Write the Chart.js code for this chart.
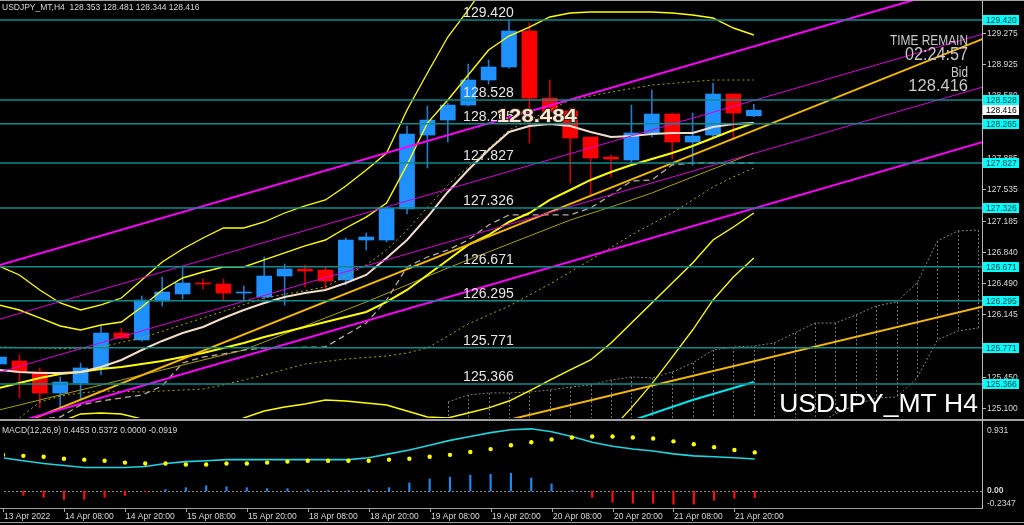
<!DOCTYPE html>
<html>
<head>
<meta charset="utf-8">
<script src="https://cdn.jsdelivr.net/npm/chart.js@4.4.1/dist/chart.umd.min.js"></script>
<style>
html,body{margin:0;padding:0;background:#000;overflow:hidden;}
#wrap{position:relative;width:1024px;height:525px;background:#000;}
#main{position:absolute;left:0;top:0;}
#macd{position:absolute;left:0;top:420px;}
</style>
</head>
<body>
<div id="wrap">
<canvas id="main" width="1024" height="420"></canvas>
<canvas id="macd" width="1024" height="105"></canvas>
</div>
<script>
// USDJPY H4 candles, bar 0 = 13 Apr 20:00 ... bar 37 = 22 Apr 00:00
var opens  = [125.589,125.623,125.500,125.266,125.378,125.545,125.934,125.857,126.291,126.369,126.491,126.480,126.380,126.335,126.569,126.647,126.636,126.525,126.970,126.970,127.315,128.139,128.306,128.473,128.752,128.897,129.298,128.551,128.407,128.117,127.894,127.861,128.162,128.373,128.061,128.139,128.596,128.353];
var highs  = [125.690,125.690,125.545,125.445,125.600,126.012,125.990,126.347,126.558,126.681,126.536,126.536,126.458,126.781,126.703,126.692,126.670,126.992,127.048,127.340,128.240,128.462,128.496,128.930,128.975,129.420,129.387,128.752,128.440,128.117,127.917,128.473,128.640,128.384,128.384,128.718,128.596,128.481];
var lows   = [125.545,125.211,125.099,125.099,125.200,125.467,125.868,125.845,126.235,126.313,126.424,126.302,126.291,126.313,126.246,126.447,126.424,126.469,126.859,126.948,127.260,127.772,128.061,128.462,128.707,128.885,128.050,128.273,127.605,127.460,127.672,127.828,128.117,127.872,127.805,128.117,128.084,128.344];
var closes = [125.667,125.500,125.266,125.389,125.545,125.934,125.879,126.302,126.391,126.491,126.480,126.380,126.391,126.569,126.647,126.625,126.514,126.970,127.004,127.326,128.151,128.306,128.473,128.752,128.897,129.298,128.551,128.396,128.106,127.883,127.872,128.162,128.373,128.061,128.128,128.596,128.384,128.416];

var xTickBars = [0,3,6,9,12,15,18,21,24,27,30,33,36];
var xTickLabels = ["13 Apr 2022","14 Apr 08:00","14 Apr 20:00","15 Apr 08:00","15 Apr 20:00","18 Apr 08:00","18 Apr 20:00","19 Apr 08:00","19 Apr 20:00","20 Apr 08:00","20 Apr 20:00","21 Apr 08:00","21 Apr 20:00"];
var priceTicks = [129.275,128.925,128.580,128.235,127.885,127.535,127.185,126.840,126.490,126.145,125.795,125.450,125.100];
var levels = [129.420,128.528,128.265,127.827,127.326,126.671,126.295,125.771,125.366];
var bid = 128.416;

// moving averages / bollinger
var maFast = [125.523,125.500,125.489,125.489,125.500,125.556,125.634,125.745,125.846,125.935,126.002,126.102,126.191,126.269,126.336,126.380,126.414,126.492,126.581,126.770,126.970,127.226,127.505,127.750,127.973,128.173,128.240,128.262,128.240,128.173,128.117,128.128,128.151,128.162,128.162,128.229,128.262,128.273];
var bbMid = [125.322,125.378,125.434,125.478,125.500,125.534,125.556,125.589,125.623,125.667,125.712,125.768,125.823,125.890,125.946,126.002,126.057,126.113,126.169,126.280,126.414,126.581,126.748,126.915,127.026,127.171,127.271,127.416,127.527,127.639,127.728,127.806,127.872,127.939,128.017,128.106,128.195,128.273];
var bbUp2 = [126.247,126.191,126.102,126.013,125.968,126.024,126.057,126.224,126.414,126.547,126.614,126.670,126.670,126.748,126.826,126.904,126.970,127.104,127.226,127.382,127.806,128.273,128.529,128.808,129.086,129.242,129.342,129.454,129.498,129.509,129.509,129.509,129.509,129.498,129.476,129.443,129.331,129.253];
var bbUp3 = [126.681,126.581,126.414,126.269,126.191,126.247,126.324,126.525,126.725,126.870,126.993,127.104,127.104,127.171,127.271,127.349,127.416,127.572,127.750,127.939,128.418,128.830,129.231,129.532,129.866,130.144];
var bbLow2 = [124.398,124.565,124.765,124.944,125.033,125.044,125.033,124.977,124.899,124.832,124.855,124.910,124.988,125.066,125.111,125.144,125.189,125.177,125.155,125.133,125.066,124.999,124.988,125.044,125.100,125.177,125.289,125.411,125.523,125.634,125.823,126.046,126.269,126.492,126.714,126.970,127.115,127.271];
var bbLow3Bars = [29,30,31,32,33,34,35,36,37];
var bbLow3 = [124.409,124.855,125.100,125.367,125.667,125.968,126.302,126.558,126.770];
var oliveBars = [0,3,6,9,12,14,16,18,20,22,24,26,28,30,32,34,36,37];
var oliveMa = [125.077,125.244,125.411,125.578,125.745,125.924,126.102,126.280,126.469,126.659,126.837,127.015,127.193,127.338,127.494,127.672,127.850,127.939];
var dotUpBars = [0,2,4,5,7,10,13,16,18,19,20,22,25,26,28,30,32,35,37];
var dotUp = [125.779,125.768,125.757,125.779,125.879,126.102,126.324,126.447,126.692,126.859,127.082,127.583,128.195,128.307,128.529,128.618,128.696,128.752,128.752];
var dotLowBars = [1,2,3,4,5,7,10,11,12,13,15,17,19,20,21,22,23,25,27,29,31,33,35,36,37];
var dotLow = [124.988,125.166,125.233,125.267,125.289,125.278,125.311,125.356,125.411,125.467,125.589,125.645,125.678,125.712,125.768,125.901,126.035,126.235,126.480,126.748,127.026,127.271,127.561,127.672,127.772];
var kijunBars = [0,2,3,4,5,6,7,8,9,10,11,12,13,16,17,18,19,20,21,22,23,24,25,28,29,30,31,32,33,34,37];
var kijun = [124.977,124.977,124.999,125.133,125.177,125.211,125.244,125.345,125.601,125.667,125.701,125.745,125.768,125.779,125.912,126.046,126.302,126.670,126.781,126.859,126.970,127.137,127.249,127.249,127.327,127.471,127.627,127.639,127.806,127.828,127.828];
var cyanBars = [30,34,37];
var cyanLine = [124.880,125.189,125.389];

// ichimoku cloud (shifted forward)
var cloudStart = 22;
var cloudTop = [125.166,125.244,125.267,125.267,125.278,125.300,125.333,125.356,125.411,125.445,125.434,125.500,125.601,125.745,125.779,125.790,125.823,125.935,126.046,126.046,126.135,126.235,126.280,126.492,126.959,127.071,127.082];
var cloudLowBars = [40,41,42,43,44,45,46,47,48];
var cloudLow = [124.910,125.033,125.133,125.211,125.222,125.434,125.857,125.957,125.990];

// drawn trend lines (bar, price end points)
var lineBars = [0,49];
var chanTop = [126.688,129.917];
var chanMidHi = [126.087,129.315];
var chanMidLo = [125.497,128.725];
var chanBottom = [124.884,128.113];
var trendUp = [124.828,129.280];
var trendLowBars = [24,49];
var trendLow = [124.914,126.270];

// MACD(12,26,9)
var macdMain = [0.462,0.422,0.382,0.355,0.328,0.328,0.328,0.342,0.382,0.409,0.422,0.436,0.436,0.436,0.436,0.436,0.436,0.436,0.462,0.516,0.570,0.636,0.704,0.757,0.811,0.851,0.864,0.824,0.757,0.677,0.623,0.583,0.556,0.516,0.489,0.476,0.462,0.4453];
var macdSignal = [0.503,0.489,0.476,0.449,0.436,0.422,0.395,0.382,0.382,0.369,0.369,0.382,0.382,0.395,0.409,0.422,0.422,0.422,0.422,0.436,0.449,0.476,0.503,0.543,0.583,0.637,0.677,0.717,0.744,0.757,0.757,0.744,0.730,0.690,0.650,0.610,0.570,0.5372];
var macdHist = [-0.020,-0.060,-0.087,-0.114,-0.114,-0.087,-0.060,-0.007,0.020,0.047,0.074,0.060,0.047,0.034,0.034,0.020,0.007,0.007,0.020,0.047,0.114,0.168,0.194,0.221,0.234,0.248,0.181,0.100,0.007,-0.087,-0.154,-0.168,-0.168,-0.181,-0.181,-0.127,-0.100,-0.0919];

var XMIN = 0.049, XMAX = 48.186;
var PMIN = 124.988, PMAX = 129.643;
var FONT = '"Liberation Sans", Arial, sans-serif';
var TXT = '#d8d8d8';

function seq(start, vals) { return vals.map(function(v, k) { return {x: start + k, y: v}; }); }
function pts(bars, vals) { return vals.map(function(v, k) { return {x: bars[k], y: v}; }); }

function line(data, color, width, order, dash) {
  return {type: 'line', data: data, borderColor: color, borderWidth: width, borderDash: dash || [],
          pointRadius: 0, tension: 0, fill: false, order: order};
}

function text(ctx, s, x, y, font, color, align, base, fitW) {
  ctx.save();
  ctx.font = font; ctx.fillStyle = color;
  ctx.textAlign = align || 'left'; ctx.textBaseline = base || 'alphabetic';
  if (fitW) {
    var k = fitW / ctx.measureText(s).width;
    ctx.translate(x, y); ctx.scale(k, 1); ctx.fillText(s, 0, 0);
  } else ctx.fillText(s, x, y);
  ctx.restore();
}

var candleIdx = opens.map(function(o, i) { return i; });
var bullCol = '#1e90ff', bearCol = '#ff0000';

var mainDecor = {
  id: 'mainDecor',
  beforeDatasetsDraw: function(chart) {
    var ctx = chart.ctx, xs = chart.scales.x, ys = chart.scales.y, a = chart.chartArea;
    ctx.save();
    ctx.beginPath(); ctx.rect(a.left, a.top, a.right - a.left, a.bottom - a.top); ctx.clip();
    ctx.strokeStyle = '#707070'; ctx.lineWidth = 1; ctx.setLineDash([2, 2]);
    cloudTop.forEach(function(v, k) {
      var bar = cloudStart + k;
      var j = cloudLowBars.indexOf(bar);
      var lo = j >= 0 ? cloudLow[j] : ys.min;
      var x = Math.round(xs.getPixelForValue(bar)) + 0.5;
      ctx.beginPath(); ctx.moveTo(x, ys.getPixelForValue(v)); ctx.lineTo(x, ys.getPixelForValue(lo)); ctx.stroke();
    });
    ctx.restore();
  },
  afterDatasetsDraw: function(chart) {
    var ctx = chart.ctx, xs = chart.scales.x, ys = chart.scales.y;
    var lx = xs.getPixelForValue(22.75);
    levels.forEach(function(p) {
      text(ctx, p.toFixed(3), lx, ys.getPixelForValue(p) - 3, '14px ' + FONT, '#e6e6e6');
    });
    // price label object
    var bx = xs.getPixelForValue(24.4), by = ys.getPixelForValue(128.28);
    ctx.save();
    ctx.font = 'bold 19px ' + FONT;
    var k = 80 / ctx.measureText('128.484').width;
    ctx.translate(bx, by); ctx.scale(k, 1);
    ctx.lineWidth = 2; ctx.strokeStyle = '#3a2410';
    ctx.strokeText('128.484', 0, 0);
    ctx.fillStyle = '#fbe9d8'; ctx.fillText('128.484', 0, 0);
    ctx.restore();
  },
  afterDraw: function(chart) {
    var ctx = chart.ctx, ys = chart.scales.y, a = chart.chartArea, W = chart.width;
    ctx.save();
    ctx.fillStyle = '#a0a0a0';
    ctx.fillRect(0, 0, W, 1);
    ctx.fillRect(0, a.bottom + 1, W, 1);
    ctx.fillStyle = '#b8b8b8';
    ctx.fillRect(a.right, 0, 1, a.bottom + 2);
    priceTicks.forEach(function(p) {
      var y = Math.round(ys.getPixelForValue(p));
      ctx.fillStyle = '#b8b8b8'; ctx.fillRect(a.right, y, 4, 1);
      text(ctx, p.toFixed(3), a.right + 5, y + 0.5, '8.5px ' + FONT, TXT, 'left', 'middle');
    });
    levels.forEach(function(p) {
      var y = Math.round(ys.getPixelForValue(p));
      ctx.fillStyle = '#00ffff'; ctx.fillRect(a.right + 1, y - 5, 36, 10);
      text(ctx, p.toFixed(3), a.right + 4, y + 0.5, '8.5px ' + FONT, '#0a3a3a', 'left', 'middle');
    });
    var yb = Math.round(ys.getPixelForValue(bid));
    ctx.fillStyle = '#ffffff'; ctx.fillRect(a.right + 1, yb - 5, 36, 10);
    text(ctx, bid.toFixed(3), a.right + 4, yb + 0.5, '8.5px ' + FONT, '#000000', 'left', 'middle');
    ctx.restore();

    text(ctx, 'USDJPY_MT,H4  128.353 128.481 128.344 128.416', 2, 10, '8.5px ' + FONT, TXT);
    text(ctx, 'TIME REMAIN', 968, 45, '15.5px ' + FONT, '#c8c8c8', 'right', 'alphabetic', 78);
    text(ctx, '02:24:57', 968, 60, '18px ' + FONT, '#c8c8c8', 'right', 'alphabetic', 63);
    text(ctx, 'Bid', 968, 77, '15px ' + FONT, '#c8c8c8', 'right', 'alphabetic', 17);
    text(ctx, bid.toFixed(3), 968, 91, '16.5px ' + FONT, '#c8c8c8', 'right');
    text(ctx, 'USDJPY_MT H4', 978, 412, '26.5px ' + FONT, '#ffffff', 'right');
  }
};

var mainData = {
  datasets: [
    {type: 'bar', label: 'wick', order: 101, grouped: false, barThickness: 1, borderWidth: 0,
     data: candleIdx.map(function(i) { return {x: i, y: [lows[i], highs[i]]}; }),
     backgroundColor: candleIdx.map(function(i) { return closes[i] >= opens[i] ? '#2378c8' : '#c80000'; })},
    {type: 'bar', label: 'body', order: 100, grouped: false, barThickness: 15, borderWidth: 0,
     data: candleIdx.map(function(i) { return {x: i, y: [opens[i], closes[i]]}; }),
     backgroundColor: candleIdx.map(function(i) { return closes[i] >= opens[i] ? bullCol : bearCol; })},
    line(seq(cloudStart, cloudTop), '#808080', 1, 60, [2, 2]),
    line(pts(cloudLowBars, cloudLow), '#808080', 1, 60, [2, 2]),
    line(pts(dotUpBars, dotUp), '#a8a800', 1, 50, [2, 3]),
    line(pts(dotLowBars, dotLow), '#a8a800', 1, 50, [2, 3]),
    line(pts(kijunBars, kijun), '#b8aca0', 1.3, 50, [6, 4]),
    line(pts(oliveBars, oliveMa), '#a8a000', 1, 50),
    line(seq(0, bbUp3), '#ffff00', 1.3, 40),
    line(seq(0, bbUp2), '#ffff00', 1.4, 40),
    line(seq(0, bbLow2), '#ffff00', 1.4, 40),
    line(pts(bbLow3Bars, bbLow3), '#ffff00', 1.3, 40),
    line(seq(0, bbMid), '#ffff00', 2, 40),
    line(seq(0, maFast), '#f2dccb', 2, 30),
    line(pts(cyanBars, cyanLine), '#00e5ee', 2, 30),
    line(pts(lineBars, chanTop), '#ff00ff', 2, 20),
    line(pts(lineBars, chanMidHi), '#d800d8', 1, 20),
    line(pts(lineBars, chanMidLo), '#d800d8', 1, 20),
    line(pts(lineBars, chanBottom), '#ff00ff', 2, 20),
    line(pts(lineBars, trendUp), '#f4b800', 2, 20),
    line(pts(trendLowBars, trendLow), '#f4b800', 2, 20)
  ].concat(levels.map(function(p) {
    return line(pts(lineBars, [p, p]), '#0d8c8c', 1.5, 10);
  }))
};

new Chart(document.getElementById('main'), {
  type: 'bar',
  data: mainData,
  options: {
    responsive: false, animation: false, devicePixelRatio: 1,
    layout: {padding: {left: 0, top: 0, right: 42, bottom: 2}},
    plugins: {legend: {display: false}, tooltip: {enabled: false}},
    scales: {
      x: {type: 'linear', min: XMIN, max: XMAX, display: false, offset: false},
      y: {type: 'linear', min: PMIN, max: PMAX, display: false}
    }
  },
  plugins: [mainDecor]
});

var macdDecor = {
  id: 'macdDecor',
  beforeDatasetsDraw: function(chart) {
    var ctx = chart.ctx, ys = chart.scales.y, a = chart.chartArea;
    var y0 = Math.round(ys.getPixelForValue(0)) + 0.5;
    ctx.save();
    ctx.strokeStyle = '#909090'; ctx.lineWidth = 1; ctx.setLineDash([2, 2]);
    ctx.beginPath(); ctx.moveTo(a.left, y0); ctx.lineTo(a.right, y0); ctx.stroke();
    ctx.restore();
  },
  afterDraw: function(chart) {
    var ctx = chart.ctx, xs = chart.scales.x, ys = chart.scales.y, a = chart.chartArea, W = chart.width;
    ctx.save();
    ctx.fillStyle = '#a0a0a0';
    ctx.fillRect(0, 0, W, 1);
    ctx.fillRect(0, a.bottom, a.right + 1, 1);
    ctx.fillRect(0, 102, W, 1);
    ctx.fillStyle = '#b8b8b8';
    ctx.fillRect(a.right, 0, 1, a.bottom + 1);
    ctx.restore();
    text(ctx, 'MACD(12,26,9) 0.4453 0.5372 0.0000 -0.0919', 2, 13, '8.5px ' + FONT, TXT);
    text(ctx, ys.max.toFixed(3), a.right + 5, a.top + 7, '8.5px ' + FONT, TXT, 'left', 'middle');
    text(ctx, '0.00', a.right + 5, ys.getPixelForValue(0), 'bold 8.5px ' + FONT, TXT, 'left', 'middle');
    text(ctx, ys.min.toFixed(4), a.right + 5, a.bottom - 4, '8.5px ' + FONT, TXT, 'left', 'middle');
    xTickBars.forEach(function(b, k) {
      var x = Math.round(xs.getPixelForValue(b));
      ctx.fillStyle = '#a0a0a0'; ctx.fillRect(x, a.bottom, 1, 4);
      text(ctx, xTickLabels[k], Math.max(x + 1, 0), 99, '8.5px ' + FONT, TXT);
    });
  }
};

new Chart(document.getElementById('macd'), {
  type: 'bar',
  data: {
    datasets: [
      {type: 'bar', order: 10, grouped: false, barThickness: 1.5, borderWidth: 0,
       data: seq(0, macdHist),
       backgroundColor: macdHist.map(function(v) { return v >= 0 ? '#1e88f0' : '#ff1010'; })},
      {type: 'line', order: 1, data: seq(0, macdSignal), showLine: false, pointRadius: 2.2,
       pointBackgroundColor: '#ffff00', pointBorderWidth: 0, borderColor: '#ffff00'},
      line(seq(0, macdMain), '#20d4e0', 1.6, 2)
    ]
  },
  options: {
    responsive: false, animation: false, devicePixelRatio: 1,
    layout: {padding: {left: 0, top: 1, right: 42, bottom: 17}},
    plugins: {legend: {display: false}, tooltip: {enabled: false}},
    scales: {
      x: {type: 'linear', min: XMIN, max: XMAX, display: false, offset: false},
      y: {type: 'linear', min: -0.2347, max: 0.931, display: false}
    }
  },
  plugins: [macdDecor]
});
</script>
</body>
</html>
